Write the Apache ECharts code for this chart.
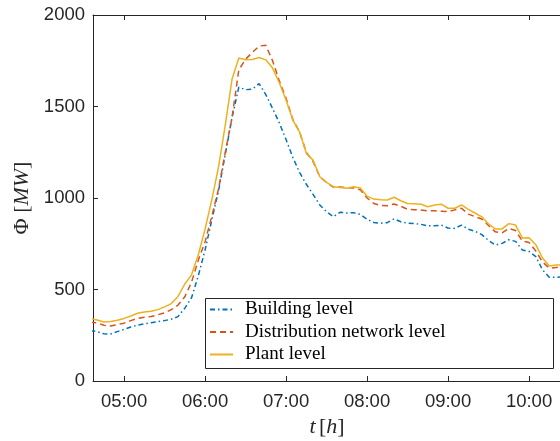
<!DOCTYPE html>
<html><head><meta charset="utf-8">
<script src="https://cdn.jsdelivr.net/npm/echarts@6/dist/echarts.min.js"></script>
<style>html,body{margin:0;padding:0;background:#fff}#c{width:560px;height:441px}</style>
</head><body><div id="c"></div>
<script>
const times = ['04:35','04:40','04:45','04:50','04:55','05:00','05:05','05:10','05:15','05:20','05:25','05:30','05:35','05:40','05:45','05:50','05:55',
'06:00','06:05','06:10','06:15','06:20','06:25','06:30','06:35','06:40','06:45','06:50','06:55',
'07:00','07:05','07:10','07:15','07:20','07:25','07:30','07:35','07:40','07:45','07:50','07:55',
'08:00','08:05','08:10','08:15','08:20','08:25','08:30','08:35','08:40','08:45','08:50','08:55',
'09:00','09:05','09:10','09:15','09:20','09:25','09:30','09:35','09:40','09:45','09:50','09:55',
'10:00','10:05','10:10','10:15','10:20','10:25'];
const building = [275,270,258,257,270,282,295,305,312,318,325,330,338,352,398,455,575,
715,880,1040,1240,1440,1605,1592,1594,1625,1565,1490,1410,
1320,1222,1140,1075,1020,962,925,898,922,918,920,910,
884,866,862,865,886,870,862,860,856,848,848,852,
836,834,852,829,818,800,768,743,752,772,763,716,
708,680,607,567,567,570];
const distribution = [320,318,305,300,308,316,330,342,348,352,362,372,390,415,460,540,660,
760,900,1050,1250,1440,1700,1758,1795,1830,1835,1750,1640,
1545,1430,1362,1250,1200,1116,1085,1060,1060,1056,1055,1045,
1000,970,960,958,967,955,938,936,934,930,930,928,
925,935,944,912,898,885,850,815,810,834,822,765,
757,710,650,617,620,625];
const plant = [340,333,322,325,332,342,355,370,377,381,390,405,423,462,530,580,690,
830,990,1170,1400,1650,1765,1755,1757,1768,1755,1710,1630,
1535,1426,1362,1244,1207,1116,1085,1062,1058,1053,1062,1055,
1010,994,990,989,1004,985,970,968,966,952,962,966,
944,944,962,938,918,897,858,831,831,860,852,782,
783,745,672,628,634,634];
const seriesNames = ['Building level','Distribution network level','Plant level'];
const tickLabels = ['05:00','06:00','07:00','08:00','09:00','10:00'];
const xRange = ['04:37','10:23:40'];

function toMin(s){const p=s.split(':').map(Number);return p[0]*60+p[1]+(p[2]||0)/60;}
function fmt(v){const h=Math.floor(v/60),m=Math.round(v-h*60);return String(h).padStart(2,'0')+':'+String(m).padStart(2,'0');}
const tx = times.map(toMin);
const pair = arr => arr.map((v,i)=>[tx[i],v]);
const tickVals = tickLabels.map(toMin);
const axisCol = '#262626';
const chart = echarts.init(document.getElementById('c'));
const xBase = {
  type:'value', min: toMin(xRange[0]), max: toMin(xRange[1]),
  splitLine:{show:false},
  axisLine:{show:true,onZero:false,lineStyle:{color:axisCol,width:1}},
  axisTick:{show:true,inside:true,length:5,customValues:tickVals,lineStyle:{color:axisCol}},
};
const nameRich = {rich:{i:{fontFamily:'Liberation Serif',fontStyle:'italic',fontSize:22,color:axisCol},n:{fontFamily:'Liberation Serif',fontSize:22,color:axisCol}}};
chart.setOption({
  animation:false,
  backgroundColor:'#fff',
  grid:{left:93,right:-1,top:15,bottom:60,containLabel:false,outerBoundsMode:'none'},
  xAxis:[Object.assign({},xBase,{
    position:'bottom',
    axisLabel:{customValues:tickVals,formatter:fmt,margin:11,color:axisCol,fontFamily:'Liberation Sans',fontSize:18.5},
    name:'{i|t} {n|[}{i|h}{n|]}', nameLocation:'middle', nameGap:35,
    nameTextStyle:nameRich
  }),Object.assign({},xBase,{position:'top',axisLabel:{show:false}})],
  yAxis:[{
    type:'value',min:0,max:2000,interval:500,
    splitLine:{show:false},
    axisLine:{show:true,lineStyle:{color:axisCol,width:1}},
    axisTick:{show:true,inside:true,length:5,lineStyle:{color:axisCol}},
    axisLabel:{margin:8,color:axisCol,fontFamily:'Liberation Sans',fontSize:18.5,formatter:v=>String(v)},
    name:'{n|Φ [}{i|MW}{n|]}', nameLocation:'middle', nameGap:58,
    nameTextStyle:nameRich
  }],
  legend:{
    left:206, top:298, orient:'vertical', itemWidth:23, itemHeight:12, itemGap:1.5,
    padding:[1,4,3,3],
    itemStyle:{opacity:0},
    textStyle:{fontFamily:'Liberation Serif',fontSize:19,color:'#000',lineHeight:21,padding:[0,0,0,7]},
    data:seriesNames
  },
  graphic:[{type:'rect',left:205,top:298,shape:{width:348,height:70},style:{fill:'#fff',stroke:axisCol,lineWidth:1},z:-1,silent:true}],
  series:[
    {name:seriesNames[0],type:'line',data:pair(building),symbol:'none',lineStyle:{color:'#0072BD',width:1.5,type:[5,3,1.5,3]},itemStyle:{color:'#0072BD'}},
    {name:seriesNames[1],type:'line',data:pair(distribution),symbol:'none',lineStyle:{color:'#D95319',width:1.5,type:[6,4]},itemStyle:{color:'#D95319'}},
    {name:seriesNames[2],type:'line',data:pair(plant),symbol:'none',lineStyle:{color:'#EDB120',width:1.5},itemStyle:{color:'#EDB120'}}
  ]
});
</script></body></html>
